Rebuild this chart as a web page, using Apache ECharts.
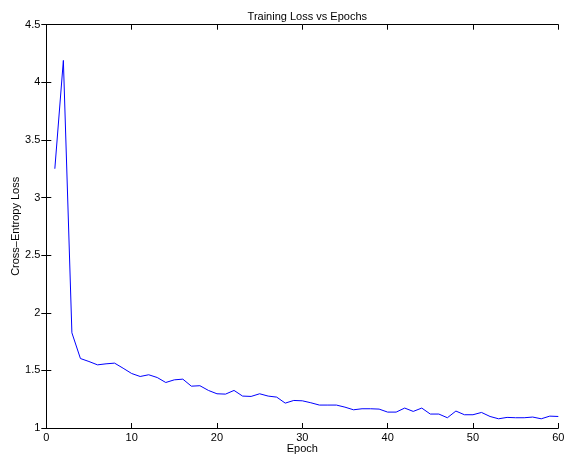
<!DOCTYPE html>
<html><head><meta charset="utf-8">
<script src="https://cdn.jsdelivr.net/npm/echarts@6/dist/echarts.min.js"></script>
<style>html,body{margin:0;padding:0;background:#fff}#c{width:565px;height:459px}</style>
</head><body><div id="c"></div>
<script>
const epochs = Array.from({length: 60}, (_, i) => i + 1);
const loss = [3.25, 4.19, 1.826, 1.603, 1.577, 1.548, 1.557, 1.563, 1.519, 1.473,
  1.447, 1.462, 1.438, 1.395, 1.418, 1.424, 1.363, 1.367, 1.326, 1.297,
  1.294, 1.326, 1.277, 1.274, 1.297, 1.277, 1.268, 1.216, 1.239, 1.236,
  1.219, 1.199, 1.199, 1.199, 1.181, 1.158, 1.167, 1.167, 1.164, 1.138,
  1.138, 1.173, 1.144, 1.173, 1.121, 1.121, 1.089, 1.147, 1.115, 1.115,
  1.135, 1.1, 1.08, 1.092, 1.089, 1.089, 1.095, 1.08, 1.103, 1.1];
const titleText = 'Training Loss vs Epochs';
const xName = 'Epoch';
const yName = 'Cross\u2013Entropy Loss';

const font = 'Liberation Sans, Arial, Helvetica, sans-serif';
const chart = echarts.init(document.getElementById('c'));
const lineStyle = {color: '#000', width: 1};
chart.setOption({
  animation: false,
  title: {text: titleText, left: 302.3, top: 6, textAlign: 'center',
    textStyle: {fontFamily: font, fontSize: 11, fontWeight: 'normal', color: '#000'}},
  grid: {left: 46.3, right: 6.7, top: 24.7, bottom: 31, containLabel: false, outerBoundsMode: 'none'},
  xAxis: [
    {type: 'value', min: 0, max: 60, interval: 10, position: 'bottom',
     name: xName, nameLocation: 'middle', nameGap: 15, nameMoveOverlap: false,
     nameTextStyle: {fontFamily: font, fontSize: 11, color: '#000'},
     axisLine: {show: true, lineStyle}, axisTick: {inside: true, length: 5, lineStyle},
     axisLabel: {fontFamily: font, fontSize: 11, color: '#000', margin: 4},
     splitLine: {show: false}},
    {type: 'value', min: 0, max: 60, interval: 10, position: 'top',
     axisLine: {show: true, lineStyle}, axisTick: {inside: true, length: 5, lineStyle},
     axisLabel: {show: false}, splitLine: {show: false}}
  ],
  yAxis: [
    {type: 'value', min: 1, max: 4.5, interval: 0.5, position: 'left',
     name: yName, nameLocation: 'middle', nameGap: 25, nameMoveOverlap: false,
     nameTextStyle: {fontFamily: font, fontSize: 11, color: '#000'},
     axisLine: {show: true, lineStyle}, axisTick: {inside: true, length: 5, lineStyle},
     axisLabel: {fontFamily: font, fontSize: 11, color: '#000', margin: 6},
     splitLine: {show: false}},
    {type: 'value', min: 1, max: 4.5, interval: 0.5, position: 'right',
     axisLine: {show: true, lineStyle}, axisTick: {inside: true, length: 5, lineStyle},
     axisLabel: {show: false}, splitLine: {show: false}}
  ],
  series: [{
    type: 'line', xAxisIndex: 0, yAxisIndex: 0,
    data: epochs.map((e, i) => [e, loss[i]]),
    showSymbol: false, symbol: 'none',
    lineStyle: {color: '#0000ff', width: 1}
  }]
});
</script></body></html>
